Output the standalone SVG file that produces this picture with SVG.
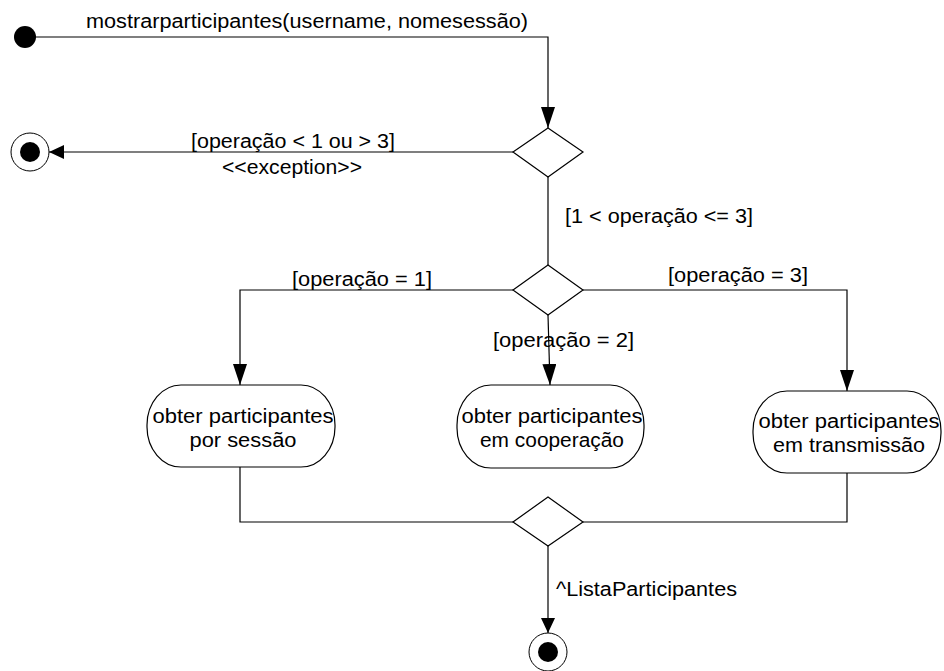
<svg xmlns="http://www.w3.org/2000/svg" width="944" height="671" viewBox="0 0 944 671">
<defs>
<style>
.t{font-family:"Liberation Sans",Arial,sans-serif;font-size:20px;fill:#000}
.m{text-anchor:middle}
.ln{fill:none;stroke:#000;stroke-width:1.2}
.box{fill:#fff;stroke:#000;stroke-width:1.2}
.dia{fill:#fff;stroke:#000;stroke-width:1.2}
</style>
<marker id="ah" markerWidth="22" markerHeight="14" refX="21" refY="7" orient="auto" markerUnits="userSpaceOnUse">
<path d="M0,0 L21,7 L0,14 Z" fill="#000"/>
</marker>
<marker id="ahs" markerWidth="16" markerHeight="14" refX="15" refY="7" orient="auto" markerUnits="userSpaceOnUse">
<path d="M0,0 L15,7 L0,14 Z" fill="#000"/>
</marker>
</defs>
<rect width="944" height="671" fill="#fff"/>

<g id="connectors">
<path class="ln" d="M25,37 H548 V128" marker-end="url(#ah)"/>
<text class="t" x="86" y="28" textLength="442" lengthAdjust="spacingAndGlyphs">mostrarparticipantes(username, nomesessão)</text>
<path class="ln" d="M513,152 H49" marker-end="url(#ahs)"/>
<text class="t" x="191" y="148" textLength="204" lengthAdjust="spacingAndGlyphs">[operação &lt; 1 ou &gt; 3]</text>
<text class="t" x="222" y="174" textLength="140" lengthAdjust="spacingAndGlyphs">&lt;&lt;exception&gt;&gt;</text>
<path class="ln" d="M548,177 V265"/>
<text class="t" x="565" y="223" textLength="188" lengthAdjust="spacingAndGlyphs">[1 &lt; operação &lt;= 3]</text>
<path class="ln" d="M513,290 H240 V385" marker-end="url(#ah)"/>
<text class="t" x="292" y="286" textLength="140" lengthAdjust="spacingAndGlyphs">[operação = 1]</text>
<path class="ln" d="M548,315 L550,385" marker-end="url(#ah)"/>
<text class="t" x="493" y="347" textLength="141" lengthAdjust="spacingAndGlyphs">[operação = 2]</text>
<path class="ln" d="M583,290 H847 V391" marker-end="url(#ah)"/>
<text class="t" x="668" y="282" textLength="140" lengthAdjust="spacingAndGlyphs">[operação = 3]</text>
<path class="ln" d="M240,467 V522 H513"/>
<path class="ln" d="M847,473 V522 H583"/>
<path class="ln" d="M548,546 V633" marker-end="url(#ahs)"/>
<text class="t" x="556" y="596" textLength="181" lengthAdjust="spacingAndGlyphs">^ListaParticipantes</text>
</g>

<g id="start">
<circle cx="25" cy="37" r="11" fill="#000"/>
</g>

<g id="decision1">
<polygon class="dia" points="548,128 583,152 548,177 513,152"/>
</g>

<g id="end1">
<circle cx="30" cy="152" r="19" fill="#fff" stroke="#000" stroke-width="1"/>
<circle cx="30" cy="152" r="10" fill="#000"/>
</g>

<g id="decision2">
<polygon class="dia" points="548,265 583,290 548,315 513,290"/>
</g>

<g id="act1">
<rect class="box" x="147" y="385" width="188" height="82" rx="34" ry="40"/>
<text class="t m" x="243" y="423" textLength="181" lengthAdjust="spacingAndGlyphs">obter participantes</text>
<text class="t m" x="243" y="447" textLength="107" lengthAdjust="spacingAndGlyphs">por sessão</text>
</g>

<g id="act2">
<rect class="box" x="457" y="385" width="187" height="83" rx="34" ry="40"/>
<text class="t m" x="552" y="423" textLength="181" lengthAdjust="spacingAndGlyphs">obter participantes</text>
<text class="t m" x="552" y="447" textLength="144" lengthAdjust="spacingAndGlyphs">em cooperação</text>
</g>

<g id="act3">
<rect class="box" x="753" y="391" width="188" height="82" rx="34" ry="40"/>
<text class="t m" x="849" y="428" textLength="181" lengthAdjust="spacingAndGlyphs">obter participantes</text>
<text class="t m" x="849" y="452" textLength="152" lengthAdjust="spacingAndGlyphs">em transmissão</text>
</g>

<g id="merge">
<polygon class="dia" points="548,497 583,522 548,546 513,522"/>
</g>

<g id="end2">
<circle cx="548" cy="652" r="19" fill="#fff" stroke="#000" stroke-width="1"/>
<circle cx="548" cy="652" r="10" fill="#000"/>
</g>
</svg>
